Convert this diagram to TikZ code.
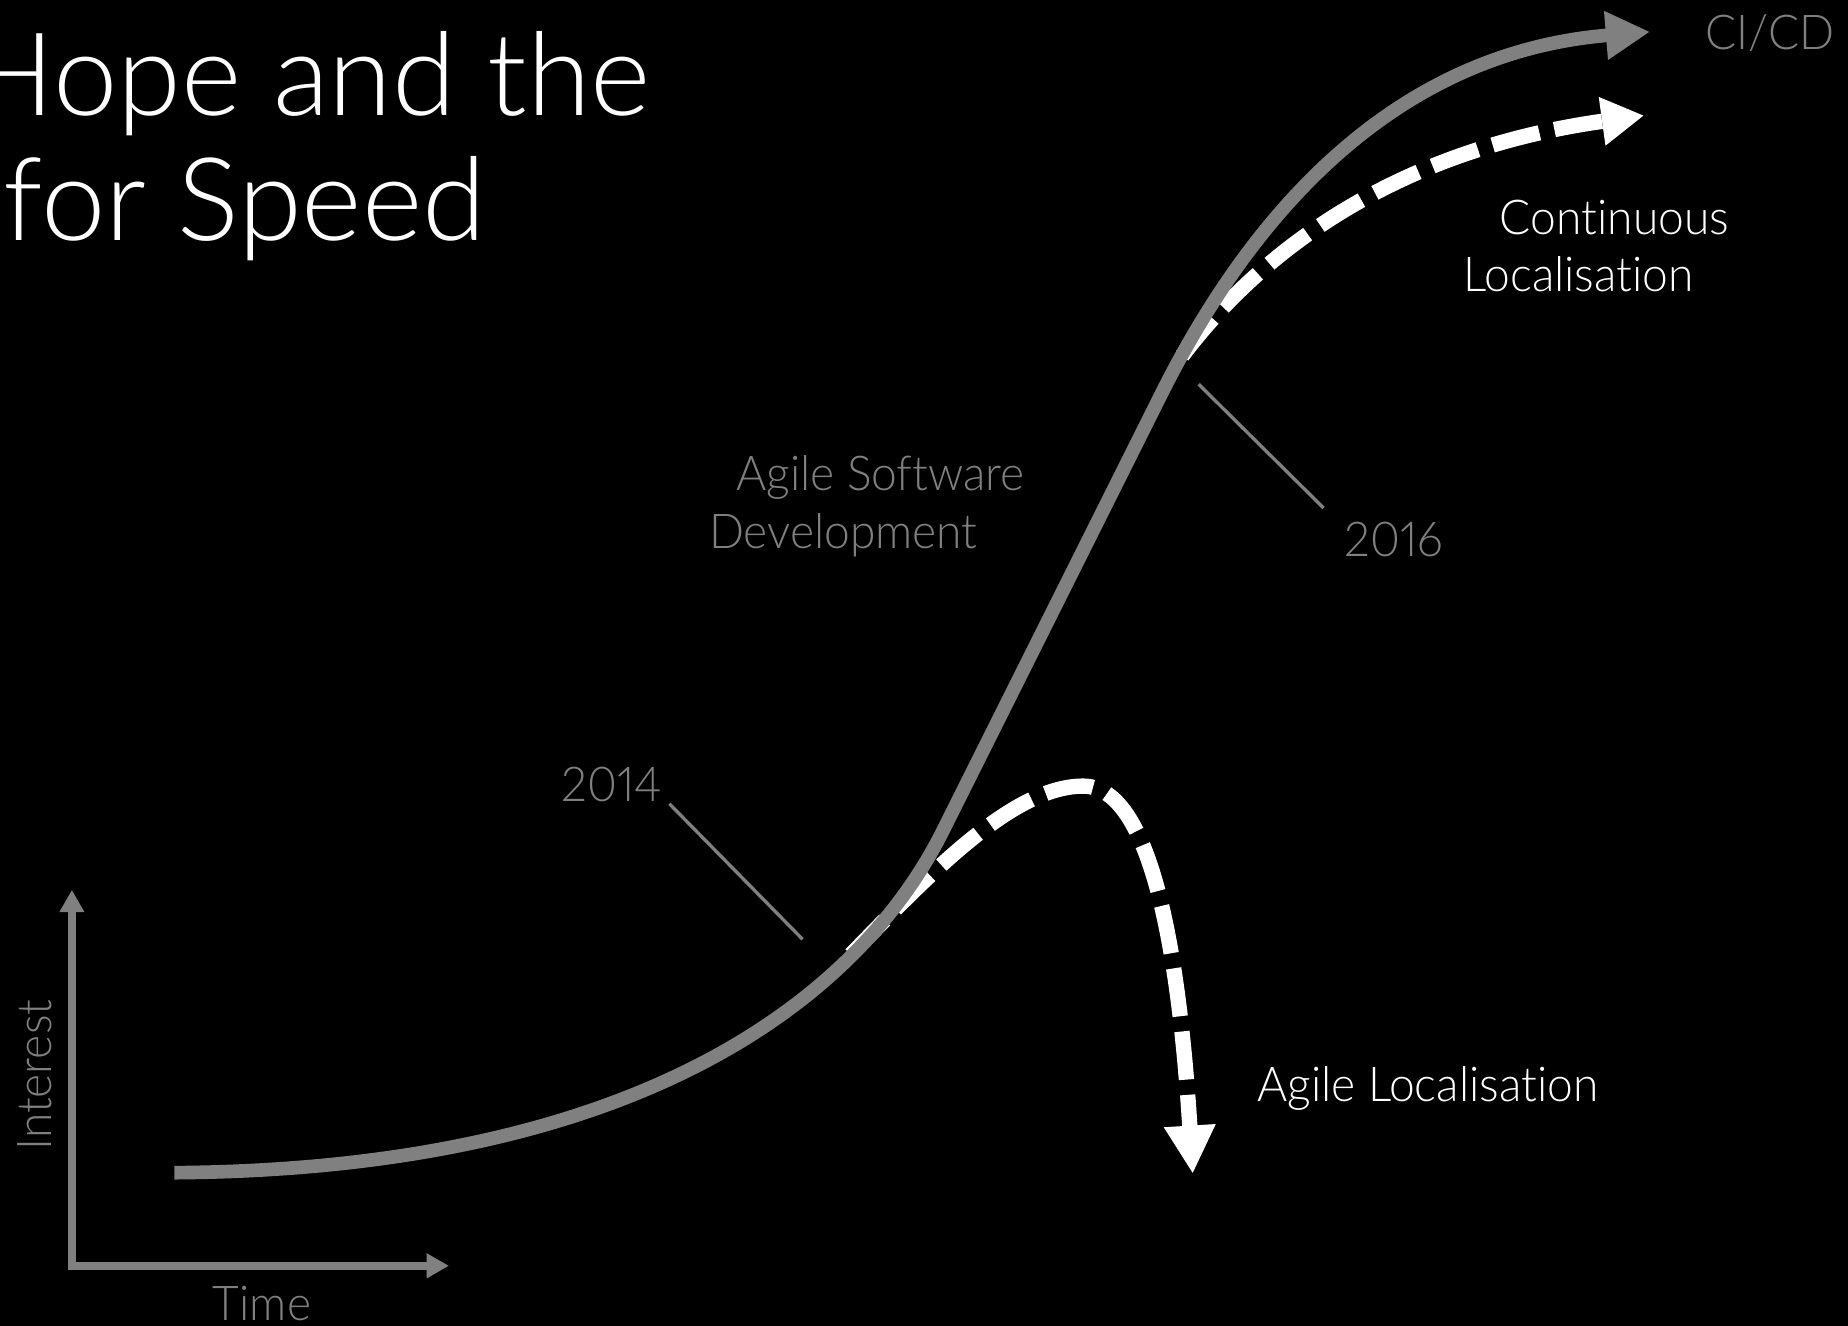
\documentclass[tikz,border=0pt]{standalone}
\usepackage{fontspec}
\setmainfont{Lato Light}[FakeStretch=0.96,Ligatures=NoCommon,Numbers=Proportional]
\newfontfamily\titlefamily{Lato Light}[FakeStretch=1.0,Ligatures=NoCommon]
\usetikzlibrary{arrows.meta}
\definecolor{slidegrey}{RGB}{128,128,128}
\newcommand{\labelfont}{\fontsize{11.6pt}{13.8pt}\selectfont}
\newcommand{\titlefont}{\titlefamily\fontsize{27.9pt}{30pt}\selectfont}

\begin{document}
\begin{tikzpicture}
    \tikzstyle{greytext}=[text=slidegrey,inner sep=0pt,font=\labelfont]
    \tikzstyle{whitetext}=[text=white,inner sep=0pt,font=\labelfont]
    \tikzstyle{curve}=[draw=slidegrey,line width=3.3pt]
    \tikzstyle{dashcurve}=[draw=white,line width=3.7pt,dash pattern=on 4.1mm off 1.3mm]
    \tikzstyle{axis}=[draw=slidegrey,line width=1.85pt]
    \tikzstyle{leader}=[draw=slidegrey,line width=0.8pt]
    \fill[black] (0,0) rectangle (15.68,11.25);
    \useasboundingbox (0,0) rectangle (15.68,11.25);
    % title
    \node[text=white,inner sep=0pt,font=\titlefont,anchor=base east] (hope) at (5.53,10.27) {Hope and the};
    \node[text=white,inner sep=0pt,font=\titlefont,anchor=base east] (speed) at (4.13,9.21) {for Speed};
    % dashed branches
    \coordinate (a0) at (7.22,3.15);
    \coordinate (a1) at (9.19,4.58);
    \coordinate (a2) at (10.12,1.29);
    \draw[dashcurve,-{Triangle[length=4.1mm,width=4.1mm]}] (a0) .. controls (7.90,3.85) and (8.60,4.58) .. (a1) .. controls (9.75,4.58) and (10.00,3.25) .. (a2);
    \coordinate (c0) at (10.03,8.23);
    \coordinate (c1) at (13.95,10.27);
    \draw[dashcurve,-{Triangle[length=3.6mm,width=3.9mm]}] (c0) .. controls (10.80,9.25) and (12.00,10.00) .. (c1);
    % main curve
    \coordinate (s0) at (1.48,1.30);
    \coordinate (s1) at (8.00,4.20);
    \coordinate (s2) at (9.85,7.90);
    \coordinate (s3) at (14.00,10.98);
    \draw[curve,-{Triangle[length=3.75mm,width=3.9mm]}] (s0) .. controls (5.60,1.33) and (7.35,2.90) .. (s1) -- (s2) .. controls (10.60,9.40) and (11.80,10.80) .. (s3);
    % axes
    \coordinate (origin) at (0.61,0.51);
    \coordinate (ytip) at (0.61,3.70);
    \coordinate (xtip) at (3.81,0.51);
    \draw[axis,{Triangle[length=1.9mm,width=2.0mm]}-{Triangle[length=1.9mm,width=2.0mm]}] (ytip) -- (origin) -- (xtip);
    \node[greytext,rotate=90,anchor=base west] (interest) at (0.44,1.48) {Interest};
    \node[greytext,anchor=base west] (time) at (1.80,0.05) {Time};
    % labels
    \node[greytext,align=left,anchor=base west] (agiledev) at (6.01,6.60) {\hspace*{2.3mm}Agile Software\\Development};
    \node[whitetext,align=left,anchor=base west] (contloc) at (12.41,8.775) {\hspace*{3.1mm}Continuous\\Localisation};
    \node[whitetext,anchor=base west] (agileloc) at (10.66,1.90) {Agile Localisation};
    \node[greytext,anchor=base west] (cicd) at (14.46,10.83) {CI/CD};
    \node[greytext,anchor=base west] (y14) at (4.76,4.45) {2014};
    \node[greytext,anchor=base west] (y16) at (11.40,6.53) {2016};
    % leaders
    \coordinate (l14) at (5.68,4.43);
    \coordinate (k14) at (6.81,3.28);
    \draw[leader] (l14) -- (k14);
    \coordinate (l16) at (11.23,6.94);
    \coordinate (k16) at (10.17,7.99);
    \draw[leader] (l16) -- (k16);
\end{tikzpicture}
\end{document}
